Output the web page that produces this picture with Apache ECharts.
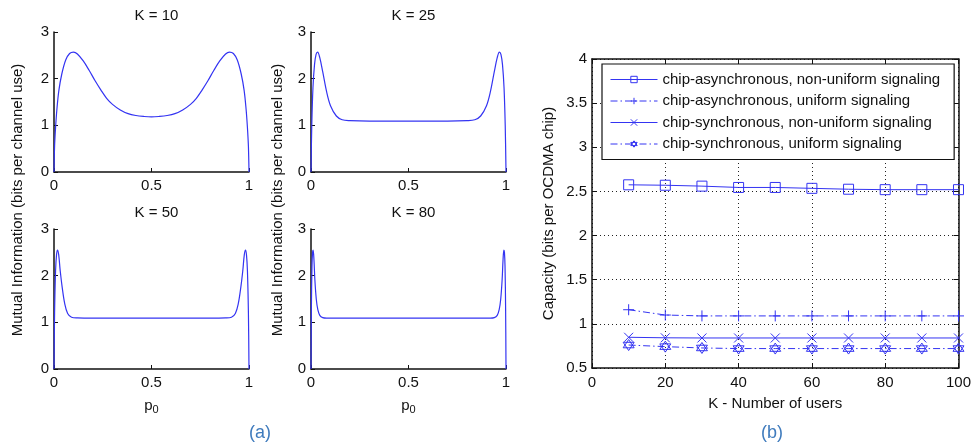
<!DOCTYPE html>
<html><head><meta charset="utf-8">
<script src="https://cdn.jsdelivr.net/npm/echarts@6/dist/echarts.min.js"></script>
<style>html,body{margin:0;padding:0;background:#fff}#c{width:974px;height:448px}</style>
</head><body><div id="c"></div>
<script>
// ---- (a) Mutual information vs p0 ----
const p10  = [0, 0.003, 0.008, 0.015, 0.025, 0.04, 0.06, 0.08, 0.1, 0.12, 0.15, 0.18, 0.21, 0.24, 0.27, 0.3, 0.34, 0.38, 0.42, 0.46, 0.5, 0.54, 0.58, 0.62, 0.66, 0.7, 0.73, 0.76, 0.79, 0.82, 0.85, 0.88, 0.9, 0.92, 0.94, 0.96, 0.975, 0.985, 0.992, 0.997, 1];
const mi10 = [0, 0.55, 0.95, 1.35, 1.75, 2.1, 2.4, 2.54, 2.57, 2.53, 2.38, 2.18, 1.96, 1.76, 1.58, 1.45, 1.33, 1.25, 1.21, 1.19, 1.18, 1.19, 1.21, 1.25, 1.33, 1.45, 1.58, 1.76, 1.96, 2.18, 2.38, 2.53, 2.57, 2.54, 2.4, 2.1, 1.75, 1.35, 0.95, 0.55, 0];

const p25  = [0, 0.004, 0.01, 0.018, 0.026, 0.034, 0.045, 0.06, 0.08, 0.1, 0.13, 0.16, 0.2, 0.3, 0.4, 0.5, 0.6, 0.7, 0.8, 0.84, 0.87, 0.9, 0.92, 0.94, 0.955, 0.966, 0.974, 0.982, 0.99, 0.996, 1];
const mi25 = [0, 1.0, 1.8, 2.3, 2.52, 2.57, 2.45, 2.15, 1.72, 1.42, 1.2, 1.12, 1.1, 1.09, 1.09, 1.09, 1.09, 1.09, 1.1, 1.12, 1.2, 1.42, 1.72, 2.15, 2.45, 2.57, 2.52, 2.3, 1.8, 1.0, 0];

const p50  = [0, 0.003, 0.008, 0.013, 0.018, 0.024, 0.032, 0.042, 0.055, 0.07, 0.09, 0.12, 0.2, 0.3, 0.4, 0.5, 0.6, 0.7, 0.8, 0.88, 0.91, 0.93, 0.945, 0.958, 0.968, 0.976, 0.982, 0.987, 0.992, 0.997, 1];
const mi50 = [0, 1.2, 2.1, 2.45, 2.55, 2.45, 2.1, 1.75, 1.4, 1.19, 1.11, 1.095, 1.09, 1.09, 1.09, 1.09, 1.09, 1.09, 1.09, 1.095, 1.11, 1.19, 1.4, 1.75, 2.1, 2.45, 2.55, 2.45, 2.1, 1.2, 0];

const p80  = [0, 0.002, 0.005, 0.008, 0.011, 0.015, 0.02, 0.027, 0.035, 0.045, 0.06, 0.08, 0.15, 0.3, 0.5, 0.7, 0.85, 0.92, 0.94, 0.955, 0.965, 0.973, 0.98, 0.985, 0.989, 0.992, 0.995, 0.998, 1];
const mi80 = [0, 1.3, 2.2, 2.5, 2.55, 2.35, 1.9, 1.5, 1.27, 1.15, 1.1, 1.09, 1.09, 1.09, 1.09, 1.09, 1.09, 1.09, 1.1, 1.15, 1.27, 1.5, 1.9, 2.35, 2.55, 2.5, 2.2, 1.3, 0];

const subTitles = ['K = 10', 'K = 25', 'K = 50', 'K = 80'];
const leftXTicks = [0, 0.5, 1];
const leftYTicks = [0, 1, 2, 3];

// ---- (b) Capacity vs number of users ----
const users = [10, 20, 30, 40, 50, 60, 70, 80, 90, 100];
const asyncNonUniform = [2.575, 2.57, 2.56, 2.545, 2.545, 2.535, 2.525, 2.52, 2.52, 2.52];
const asyncUniform    = [1.16, 1.1, 1.09, 1.09, 1.09, 1.09, 1.09, 1.09, 1.09, 1.09];
const syncNonUniform  = [0.848, 0.842, 0.84, 0.84, 0.84, 0.84, 0.84, 0.84, 0.84, 0.84];
const syncUniform     = [0.76, 0.742, 0.727, 0.72, 0.72, 0.72, 0.72, 0.72, 0.72, 0.72];
const seriesNames = [
  'chip-asynchronous, non-uniform signaling',
  'chip-asynchronous, uniform signaling',
  'chip-synchronous, non-uniform signaling',
  'chip-synchronous, uniform signaling'
];
const rightXTicks = [0, 20, 40, 60, 80, 100];
const rightYTicks = [0.5, 1, 1.5, 2, 2.5, 3, 3.5, 4];

const BLUE = '#3434f2';
const FONT = 'Liberation Sans, Arial, sans-serif';
const LABEL = {color: '#111', fontSize: 15, fontFamily: FONT};

const grids = [
  {left: 54, top: 32, width: 195, height: 140},
  {left: 311, top: 32, width: 195, height: 140},
  {left: 54, top: 229, width: 195, height: 140},
  {left: 311, top: 229, width: 195, height: 140},
  {left: 592, top: 59, width: 367, height: 309}
];

const xAxes = [], yAxes = [], series = [];
const leftData = [[p10, mi10], [p25, mi25], [p50, mi50], [p80, mi80]];
leftData.forEach((d, i) => {
  xAxes.push({
    type: 'value', gridIndex: i, min: leftXTicks[0], max: leftXTicks[leftXTicks.length - 1], interval: 0.5,
    axisLine: {onZero: false, lineStyle: {color: '#111', width: 1.5}},
    axisTick: {inside: true, length: 4, lineStyle: {color: '#111'}},
    axisLabel: Object.assign({margin: 6, formatter: v => String(v)}, LABEL),
    splitLine: {show: false},
    name: i >= 2 ? '{a|p}{b|0}' : '', nameLocation: 'middle', nameGap: 27,
    nameTextStyle: {rich: {a: {fontSize: 15, color: '#111', fontFamily: FONT}, b: {fontSize: 11, color: '#111', fontFamily: FONT, padding: [8, 0, 0, 0]}}}
  });
  yAxes.push({
    type: 'value', gridIndex: i, min: leftYTicks[0], max: leftYTicks[leftYTicks.length - 1], interval: 1,
    axisLine: {show: true, onZero: false, lineStyle: {color: '#111', width: 1.5}},
    axisTick: {show: true, inside: true, length: 4, lineStyle: {color: '#111'}},
    axisLabel: Object.assign({margin: 5}, LABEL),
    splitLine: {show: false}
  });
  series.push({
    type: 'line', xAxisIndex: i, yAxisIndex: i, showSymbol: false, smooth: 0.35,
    data: d[0].map((p, k) => [p, d[1][k]]),
    lineStyle: {color: BLUE, width: 1.2}, itemStyle: {color: BLUE}
  });
});

// right chart axes
xAxes.push({
  type: 'value', gridIndex: 4, position: 'bottom', min: 0, max: 100, interval: 20,
  axisLine: {onZero: false, lineStyle: {color: '#111', width: 1.5}},
  axisTick: {inside: true, length: 5, lineStyle: {color: '#111'}},
  axisLabel: Object.assign({margin: 7}, LABEL),
  splitLine: {show: true, lineStyle: {color: '#222', type: [1, 3], width: 1}},
  name: 'K - Number of users', nameLocation: 'middle', nameGap: 28,
  nameTextStyle: {color: '#111', fontSize: 15, fontFamily: FONT}
});
xAxes.push({
  type: 'value', gridIndex: 4, position: 'top', min: 0, max: 100, interval: 20,
  axisLine: {onZero: false, lineStyle: {color: '#111', width: 1.5}},
  axisTick: {inside: true, length: 5, lineStyle: {color: '#111'}},
  axisLabel: {show: false}, splitLine: {show: false}
});
yAxes.push({
  type: 'value', gridIndex: 4, position: 'left', min: 0.5, max: 4, interval: 0.5,
  axisLine: {show: true, onZero: false, lineStyle: {color: '#111', width: 1.5}},
  axisTick: {show: true, inside: true, length: 5, lineStyle: {color: '#111'}},
  axisLabel: Object.assign({margin: 5}, LABEL),
  splitLine: {show: true, lineStyle: {color: '#222', type: [1, 3], width: 1}},
  name: 'Capacity (bits per OCDMA chip)', nameLocation: 'middle', nameGap: 36,
  nameTextStyle: {color: '#111', fontSize: 15, fontFamily: FONT}
});
yAxes.push({
  type: 'value', gridIndex: 4, position: 'right', min: 0.5, max: 4, interval: 0.5,
  axisLine: {show: true, onZero: false, lineStyle: {color: '#111', width: 1.5}},
  axisTick: {show: true, inside: true, length: 5, lineStyle: {color: '#111'}},
  axisLabel: {show: false}, splitLine: {show: false}
});

const symPlus = 'path://M0,-10 L0,10 M-10,0 L10,0';
const symX = 'path://M-10,-10 L10,10 M-10,10 L10,-10';
const symStar = 'path://M0,-10 L8.66,5 L-8.66,5 Z M0,10 L8.66,-5 L-8.66,-5 Z';
const rightSeries = [
  {name: seriesNames[0], data: asyncNonUniform, symbol: 'rect', size: 10, dash: 'solid'},
  {name: seriesNames[1], data: asyncUniform, symbol: symPlus, size: 11, dash: [7, 3, 1.5, 3]},
  {name: seriesNames[2], data: syncNonUniform, symbol: symX, size: 9, dash: 'solid'},
  {name: seriesNames[3], data: syncUniform, symbol: symStar, size: 11, dash: [7, 3, 1.5, 3]}
];
rightSeries.forEach(s => {
  series.push({
    type: 'line', name: s.name, xAxisIndex: 4, yAxisIndex: 4,
    data: users.map((u, k) => [u, s.data[k]]),
    symbol: s.symbol, symbolSize: s.size, showSymbol: true,
    lineStyle: {color: BLUE, width: 1, type: s.dash},
    itemStyle: {color: 'rgba(255,255,255,0)', borderColor: BLUE, borderWidth: 1}
  });
});

const titles = subTitles.map((t, i) => ({
  text: t, left: grids[i].left + grids[i].width / 2, top: grids[i].top - 29, textAlign: 'center',
  textStyle: {color: '#111', fontSize: 15, fontWeight: 'normal', fontFamily: FONT}
}));

const option = {
  backgroundColor: '#fff',
  animation: false,
  title: titles,
  grid: grids,
  xAxis: xAxes,
  yAxis: yAxes,
  series: series,
  legend: {
    data: seriesNames, orient: 'vertical', left: 602, top: 64,
    itemWidth: 47, itemHeight: 8, itemGap: 6.5,
    padding: [8, 14, 8, 8],
    borderColor: '#111', borderWidth: 1.2, backgroundColor: '#fff',
    lineStyle: {width: 1},
    itemStyle: {borderWidth: 1},
    textStyle: {color: '#111', fontSize: 15, fontFamily: FONT},
    selectedMode: false
  },
  graphic: [
    {type: 'text', x: 18, y: 200, rotation: Math.PI / 2, style: {text: 'Mutual Information (bits per channel use)', fill: '#111', fontSize: 15, fontFamily: FONT, align: 'center', verticalAlign: 'middle'}},
    {type: 'text', x: 278, y: 200, rotation: Math.PI / 2, style: {text: 'Mutual Information (bits per channel use)', fill: '#111', fontSize: 15, fontFamily: FONT, align: 'center', verticalAlign: 'middle'}},
    {type: 'text', x: 260, y: 433, style: {text: '(a)', fill: '#3f7bbd', fontSize: 18, fontFamily: FONT, align: 'center', verticalAlign: 'middle'}},
    {type: 'text', x: 772, y: 433, style: {text: '(b)', fill: '#3f7bbd', fontSize: 18, fontFamily: FONT, align: 'center', verticalAlign: 'middle'}}
  ]
};
const chart = echarts.init(document.getElementById('c'), null, {renderer: 'canvas'});
chart.setOption(option);
</script>
</body></html>
